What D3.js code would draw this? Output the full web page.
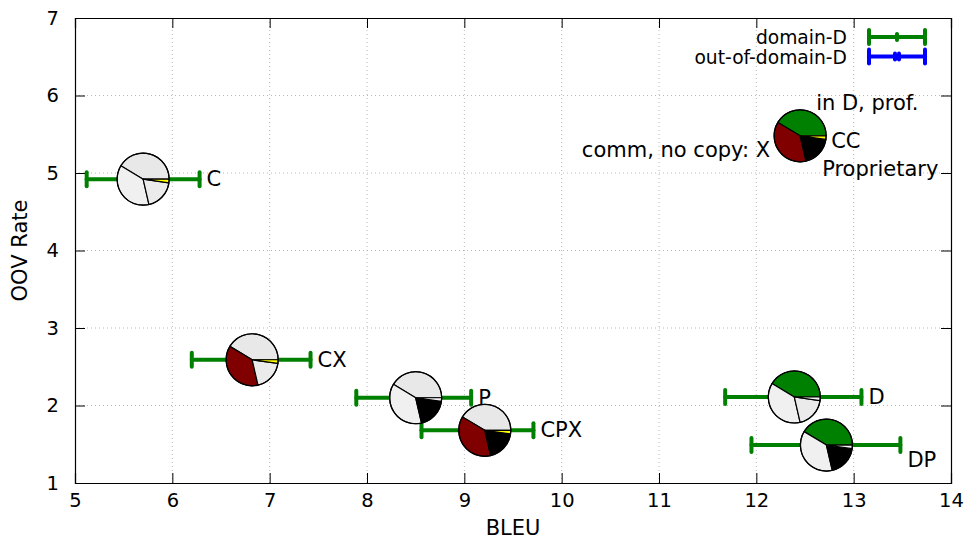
<!DOCTYPE html>
<html>
<head>
<meta charset="utf-8">
<script src="https://cdn.jsdelivr.net/npm/d3@7"></script>
<style>
  body { margin: 0; background: #fff; overflow: hidden; }
  text { font-family: "DejaVu Sans", sans-serif; font-size: 21px; fill: #000; }
  .legend text { font-size: 18.7px; }
</style>
</head>
<body>
<div id="chart"></div>
<script>
// systems and their scores
var systems = ["C", "CX", "P", "CPX", "D", "DP"];
var bleu = [5.70, 6.82, 8.50, 9.21, 12.39, 12.72];
var oov = [4.92, 2.59, 2.10, 1.68, 2.11, 1.49];
var bleuLow = [5.12, 6.20, 7.89, 8.56, 11.68, 11.95];
var bleuHigh = [6.28, 7.42, 9.07, 9.71, 13.08, 13.48];

// which parts of the training data each system uses (1 = used)
var parts = ["in D, prof.", "comm, no copy: X", "Proprietary", "CC"];
var partShare = [149, 134, 69, 8];
var usage = [
  [0, 0, 0, 1],
  [0, 1, 0, 1],
  [0, 0, 1, 0],
  [0, 1, 1, 1],
  [1, 0, 0, 0],
  [1, 0, 1, 0]
];

// key pie
var keyBleu = 12.45;
var keyOov = 5.48;

var xTicks = [5, 6, 7, 8, 9, 10, 11, 12, 13, 14];
var yTicks = [1, 2, 3, 4, 5, 6, 7];
var legendNames = ["domain-D", "out-of-domain-D"];

var partColors = ["#008000", "#800000", "#000000", "#ffff00"];
var partGrays = ["#e8e8e8", "#f0f0f0", "#ebebeb", "#f6f6f6"];
var legendColors = ["#008000", "#0000ff"];

var svgWidth = 964;
var svgHeight = 540;
var margin = { top: 18, right: 13, bottom: 57, left: 75 };
var width = svgWidth - margin.left - margin.right;
var height = svgHeight - margin.top - margin.bottom;

var svg = d3.select("#chart").append("svg")
  .attr("width", svgWidth)
  .attr("height", svgHeight);

var chartGroup = svg.append("g")
  .attr("transform", `translate(${margin.left}, ${margin.top})`);

var xScale = d3.scaleLinear().domain([5, 14]).range([0, width]);
var yScale = d3.scaleLinear().domain([1, 7]).range([height, 0]);

// grid
chartGroup.append("g").selectAll("line")
  .data(xTicks.slice(1, -1))
  .enter().append("line")
  .attr("x1", d => xScale(d)).attr("x2", d => xScale(d))
  .attr("y1", 0).attr("y2", height)
  .attr("stroke", "#b8b8b8").attr("stroke-dasharray", "1,3");
chartGroup.append("g").selectAll("line")
  .data(yTicks.slice(1, -1))
  .enter().append("line")
  .attr("y1", d => yScale(d)).attr("y2", d => yScale(d))
  .attr("x1", 0).attr("x2", width)
  .attr("stroke", "#b8b8b8").attr("stroke-dasharray", "1,3");

// axes, ticks inside on all four sides
var tickLen = 10;
var bottomAxis = chartGroup.append("g")
  .attr("transform", `translate(0, ${height})`)
  .call(d3.axisBottom(xScale).tickValues(xTicks).tickSize(-tickLen).tickPadding(10).tickFormat(d3.format("d")));
var topAxis = chartGroup.append("g")
  .call(d3.axisTop(xScale).tickValues(xTicks).tickSize(-tickLen).tickFormat(""));
var leftAxis = chartGroup.append("g")
  .call(d3.axisLeft(yScale).tickValues(yTicks).tickSize(-tickLen).tickPadding(16).tickFormat(d3.format("d")));
var rightAxis = chartGroup.append("g")
  .attr("transform", `translate(${width}, 0)`)
  .call(d3.axisRight(yScale).tickValues(yTicks).tickSize(-tickLen).tickFormat(""));

[bottomAxis, topAxis, leftAxis, rightAxis].forEach(function(ax) {
  ax.select(".domain").attr("stroke", "#000").attr("stroke-width", 1.2);
  ax.selectAll(".tick line").attr("stroke", "#000");
  ax.selectAll("text").style("font-size", "19.5px").attr("fill", "#000");
});
// drop the ticks that sit on the frame corners
topAxis.selectAll(".tick line").filter(d => d == 5 || d == 14).remove();
bottomAxis.selectAll(".tick line").filter(d => d == 5 || d == 14).remove();
leftAxis.selectAll(".tick line").filter(d => d == 1 || d == 7).remove();
rightAxis.selectAll(".tick line").filter(d => d == 1 || d == 7).remove();

// axis titles
chartGroup.append("text")
  .attr("x", width / 2)
  .attr("y", height + 52)
  .attr("text-anchor", "middle")
  .text("BLEU");

chartGroup.append("text")
  .attr("transform", "rotate(-90)")
  .attr("x", -height / 2)
  .attr("y", -margin.left + 27)
  .attr("text-anchor", "middle")
  .text("OOV Rate");

// error bars
var capH = 7;
var barGroup = chartGroup.append("g")
  .attr("stroke", legendColors[0])
  .attr("stroke-width", 4)
  .attr("stroke-linecap", "round");
systems.forEach(function(s, i) {
  var y = yScale(oov[i]);
  var x0 = xScale(bleuLow[i]);
  var x1 = xScale(bleuHigh[i]);
  barGroup.append("line").attr("x1", x0).attr("x2", x1).attr("y1", y).attr("y2", y);
  barGroup.append("line").attr("x1", x0).attr("x2", x0).attr("y1", y - capH).attr("y2", y + capH);
  barGroup.append("line").attr("x1", x1).attr("x2", x1).attr("y1", y - capH).attr("y2", y + capH);
});

// pies
var radius = 26;
var toRad = Math.PI / 180;
var arc = d3.arc().innerRadius(0).outerRadius(radius);

function drawPie(cx, cy, used) {
  var g = chartGroup.append("g")
    .attr("transform", `translate(${cx}, ${cy})`);
  var start = 0;
  partShare.forEach(function(share, k) {
    var end = start + share;
    // gnuplot style angles: counter clockwise from east
    g.append("path")
      .attr("d", arc({ startAngle: (90 - end) * toRad, endAngle: (90 - start) * toRad }))
      .attr("fill", used[k] ? partColors[k] : partGrays[k])
      .attr("stroke", "#000")
      .attr("stroke-width", 1.2)
      .attr("stroke-linejoin", "round");
    start = end;
  });
  g.append("circle").attr("r", radius).attr("fill", "none")
    .attr("stroke", "#000").attr("stroke-width", 1.2);
}

systems.forEach(function(s, i) {
  drawPie(xScale(bleu[i]), yScale(oov[i]), usage[i]);
});

// system labels right of the error bar
systems.forEach(function(s, i) {
  var extra = s == "DP" ? 15 : 0;
  chartGroup.append("text")
    .attr("x", xScale(bleuHigh[i]) + 7)
    .attr("y", yScale(oov[i]) + 7 + extra)
    .text(s);
});

// key pie with all parts labelled
var kx = xScale(keyBleu);
var ky = yScale(keyOov);
drawPie(kx, ky, [1, 1, 1, 1]);
chartGroup.append("text").attr("x", kx + 16).attr("y", ky - 26).text(parts[0]);
chartGroup.append("text").attr("x", kx - 30).attr("y", ky + 21).attr("text-anchor", "end").text(parts[1]);
chartGroup.append("text").attr("x", kx + 22).attr("y", ky + 40).text(parts[2]);
chartGroup.append("text").attr("x", kx + 31).attr("y", ky + 12).text(parts[3]);

// legend
var legend = svg.append("g").attr("class", "legend");
legendNames.forEach(function(name, i) {
  var ly = 37 + i * 19.5;
  legend.append("text")
    .attr("x", 847)
    .attr("y", ly + 7)
    .attr("text-anchor", "end")
    .text(name);
  var lg = legend.append("g")
    .attr("stroke", legendColors[i])
    .attr("stroke-width", 4)
    .attr("stroke-linecap", "round");
  lg.append("line").attr("x1", 869).attr("x2", 925).attr("y1", ly).attr("y2", ly);
  lg.append("line").attr("x1", 869).attr("x2", 869).attr("y1", ly - capH).attr("y2", ly + capH);
  lg.append("line").attr("x1", 925).attr("x2", 925).attr("y1", ly - capH).attr("y2", ly + capH);
  if (i == 0) {
    lg.append("line").attr("x1", 897).attr("x2", 897).attr("y1", ly - 3).attr("y2", ly + 3);
  } else {
    lg.append("line").attr("x1", 895).attr("x2", 895).attr("y1", ly - 3).attr("y2", ly + 3);
    lg.append("line").attr("x1", 899).attr("x2", 899).attr("y1", ly - 3).attr("y2", ly + 3);
  }
});
</script>
</body>
</html>
